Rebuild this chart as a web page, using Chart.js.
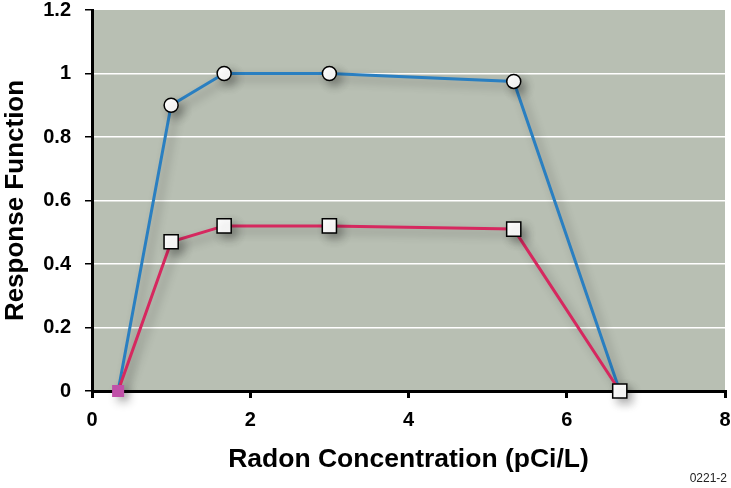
<!DOCTYPE html>
<html>
<head>
<meta charset="utf-8">
<script src="https://cdn.jsdelivr.net/npm/chart.js@4.4.1/dist/chart.umd.min.js"></script>
<style>
  html, body { margin: 0; padding: 0; background: #ffffff; }
  #wrap { position: relative; width: 731px; height: 488px; }
</style>
</head>
<body>
<div id="wrap"><canvas id="chartRadon" width="731" height="488"></canvas></div>
<script>
// valores
const concentration = [0.33, 1.0, 1.67, 3.0, 5.33, 6.67];
const responseUpper = [0, 0.9, 1.0, 1.0, 0.975, 0];
const responseLower = [0, 0.47, 0.52, 0.52, 0.51, 0];
const yTicks = [0, 0.2, 0.4, 0.6, 0.8, 1, 1.2];
const xTicks = [0, 2, 4, 6, 8];
const figureCode = "0221-2";

const fontFamily = "'Liberation Sans', Arial, sans-serif";

const toPoints = (xs, ys) => xs.map((x, i) => ({ x: x, y: ys[i] }));

// fondo gris verdoso del area de la grafica
const plotBackground = {
  id: "plotBackground",
  beforeDraw(chart) {
    const { ctx, chartArea } = chart;
    ctx.save();
    ctx.fillStyle = "#b8bfb3";
    ctx.fillRect(chartArea.left, chartArea.top, chartArea.right - chartArea.left, chartArea.bottom - chartArea.top);
    ctx.restore();
  },
  beforeDatasetsDraw(chart) {
    const ctx = chart.ctx;
    ctx.save();
    ctx.shadowColor = "rgba(0,0,0,0.3)";
    ctx.shadowBlur = 10;
    ctx.shadowOffsetX = 5;
    ctx.shadowOffsetY = 5;
  },
  afterDatasetsDraw(chart) {
    chart.ctx.restore();
  },
  afterDraw(chart) {
    const ctx = chart.ctx;
    ctx.save();
    ctx.font = "12px " + fontFamily;
    ctx.fillStyle = "#222";
    ctx.textAlign = "right";
    ctx.textBaseline = "middle";
    ctx.fillText(figureCode, 727, 479);
    ctx.restore();
  },
};

const ctx = document.getElementById("chartRadon").getContext("2d");
const radonChart = new Chart(ctx, {
  type: "scatter",
  data: {
    datasets: [
      {
        label: "Lower",
        data: toPoints(concentration, responseLower),
        showLine: true,
        clip: false,
        borderColor: "#d6285f",
        borderWidth: 3,
        pointStyle: "rect",
        pointRadius: responseLower.map((v, i) => (i === 0 ? 8.5 : 10)),
        pointBackgroundColor: responseLower.map((v, i) => (i === 0 ? "#c050a8" : "#ffffff")),
        pointBorderColor: responseLower.map((v, i) => (i === 0 ? "#c050a8" : "#000000")),
        pointBorderWidth: responseLower.map((v, i) => (i === 0 ? 0 : 1.5)),
      },
      {
        label: "Upper",
        data: toPoints(concentration, responseUpper),
        showLine: true,
        clip: false,
        borderColor: "#2a7fc1",
        borderWidth: 3,
        pointStyle: "circle",
        pointRadius: responseUpper.map((v, i) => (i === 0 || i === responseUpper.length - 1 ? 0 : 7)),
        pointBackgroundColor: "#ffffff",
        pointBorderColor: "#000000",
        pointBorderWidth: 1.5,
      },
    ],
  },
  options: {
    responsive: false,
    animation: false,
    events: [],
    layout: { autoPadding: false, padding: { left: 0, right: 6, top: 0, bottom: 12 } },
    plugins: {
      legend: { display: false },
      tooltip: { enabled: false },
    },
    scales: {
      x: {
        type: "linear",
        min: 0,
        max: 8,
        afterBuildTicks: (scale) => { scale.ticks = xTicks.map((v) => ({ value: v })); },
        afterFit: (scale) => {
          scale.height = 85;
          scale.paddingLeft = 0;
          scale.paddingRight = 0;
        },
        border: { color: "#000", width: 3 },
        grid: { drawOnChartArea: false, tickColor: "#000", tickLength: 7, lineWidth: 3 },
        ticks: {
          color: "#000",
          padding: 10,
          maxRotation: 0,
          font: { family: fontFamily, size: 20, weight: "bold" },
        },
        title: {
          display: true,
          text: "Radon Concentration (pCi/L)",
          color: "#000",
          padding: { top: 4, bottom: 0 },
          font: { family: fontFamily, size: 26.5, weight: "bold" },
        },
      },
      y: {
        type: "linear",
        min: 0,
        max: 1.2,
        afterBuildTicks: (scale) => { scale.ticks = yTicks.map((v) => ({ value: v })); },
        afterFit: (scale) => {
          scale.width = 92;
          scale.paddingTop = 10;
          scale.paddingBottom = 0;
        },
        border: { color: "#000", width: 3 },
        grid: {
          color: (c) => (c.tick && (c.tick.value === 0 || c.tick.value === 1.2) ? "rgba(0,0,0,0)" : "#ffffff"),
          lineWidth: 1.5,
          tickColor: "#000",
          tickLength: 7,
        },
        ticks: {
          color: "#000",
          padding: 14,
          callback: (v) => String(v),
          font: { family: fontFamily, size: 20, weight: "bold" },
        },
        title: {
          display: true,
          text: "Response Function",
          color: "#000",
          padding: { top: 0, bottom: 0 },
          font: { family: fontFamily, size: 26, weight: "bold" },
        },
      },
    },
  },
  plugins: [plotBackground],
});
</script>
</body>
</html>
